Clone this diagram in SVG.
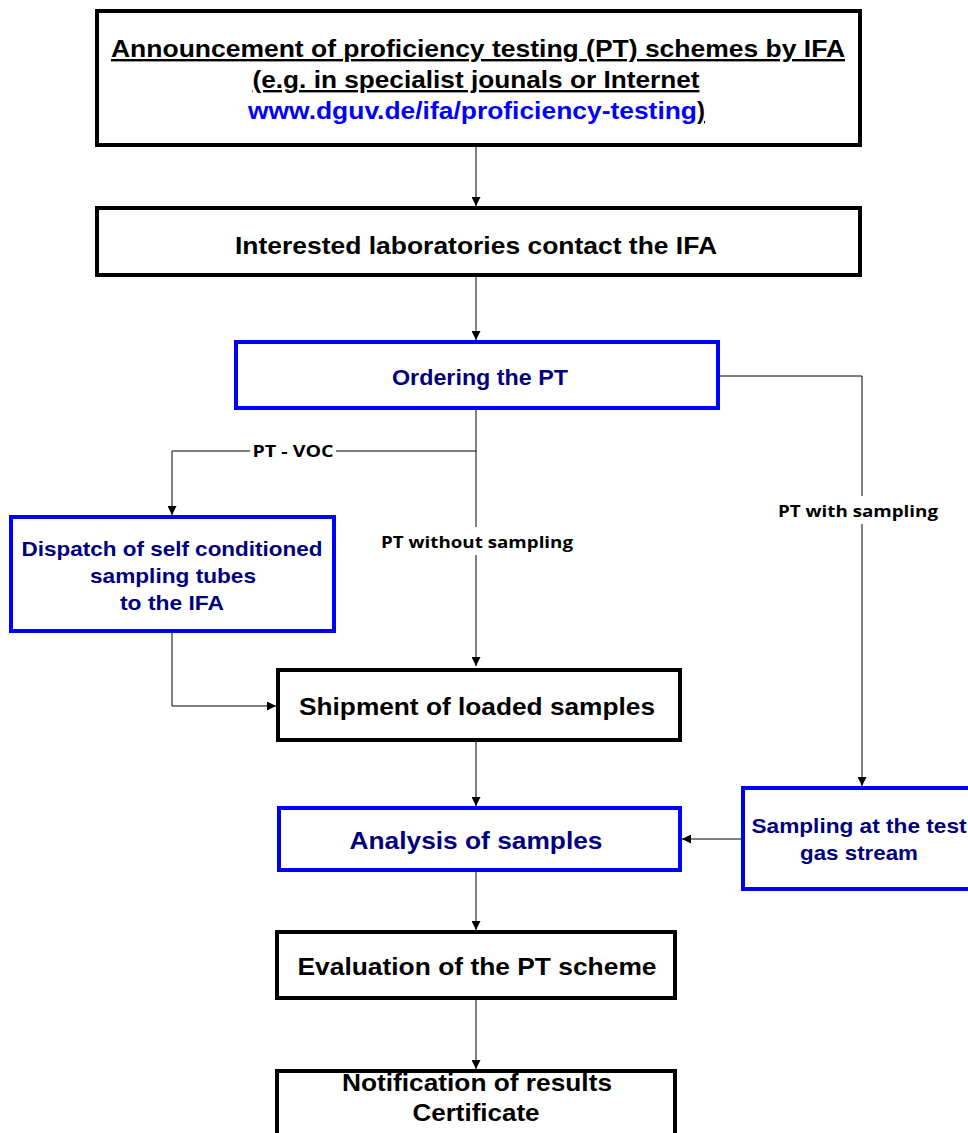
<svg xmlns="http://www.w3.org/2000/svg" width="968" height="1133" viewBox="0 0 968 1133">
<style>
.bk{fill:#fff;stroke:#000;stroke-width:4}
.bl{fill:#fff;stroke:#0000ff;stroke-width:4}
.t{font-family:"Liberation Sans",Arial,sans-serif;font-weight:bold;font-size:24px;text-anchor:middle;fill:#000}
.n{fill:#000080}
.s{font-size:21px}
.lb{font-family:"Open Sans","Noto Sans",sans-serif;font-weight:bold;font-size:16px;text-anchor:middle;fill:#000}
.c{fill:none;stroke:#000;stroke-width:1}
</style>
<defs>
<marker id="ah" viewBox="0 0 10 10" refX="10" refY="5" markerWidth="9" markerHeight="9" markerUnits="userSpaceOnUse" orient="auto">
<path d="M0,0 L10,5 L0,10 z" fill="#000"/>
</marker>
</defs>
<rect width="968" height="1133" fill="#fff"/>
<g id="connectors">
<path class="c" d="M476,145 V206" marker-end="url(#ah)"/>
<path class="c" d="M476,275 V340" marker-end="url(#ah)"/>
<path class="c" d="M476,408 V666" marker-end="url(#ah)"/>
<path class="c" d="M476,451 H172 V515" marker-end="url(#ah)"/>
<path class="c" d="M718,376 H862 V786" marker-end="url(#ah)"/>
<path class="c" d="M172,631 V706 H276" marker-end="url(#ah)"/>
<path class="c" d="M476,740 V806" marker-end="url(#ah)"/>
<path class="c" d="M743,839 H682" marker-end="url(#ah)"/>
<path class="c" d="M476,870 V930" marker-end="url(#ah)"/>
<path class="c" d="M476,998 V1069" marker-end="url(#ah)"/>
<g id="label-voc"><rect x="250" y="441" width="86" height="20" fill="#fff"/><text class="lb" x="293" y="457" textLength="81" lengthAdjust="spacingAndGlyphs">PT - VOC</text></g>
<g id="label-without"><rect x="378" y="527" width="198" height="28" fill="#fff"/><text class="lb" x="477" y="548" textLength="192" lengthAdjust="spacingAndGlyphs">PT without sampling</text></g>
<g id="label-with"><rect x="775" y="496" width="166" height="28" fill="#fff"/><text class="lb" x="858" y="517" textLength="160" lengthAdjust="spacingAndGlyphs">PT with sampling</text></g>
</g>
<g id="announcement">
<rect class="bk" x="97" y="11" width="763" height="134"/>
<text class="t" x="478" y="57" textLength="734" lengthAdjust="spacingAndGlyphs" text-decoration="underline">Announcement of proficiency testing (PT) schemes by IFA</text>
<text class="t" x="476" y="88" textLength="447" lengthAdjust="spacingAndGlyphs" text-decoration="underline">(e.g. in specialist jounals or Internet</text>
<text class="t" x="248" y="119" style="text-anchor:start"><tspan fill="#0000ff" textLength="449" lengthAdjust="spacingAndGlyphs">www.dguv.de/ifa/proficiency-testing</tspan><tspan text-decoration="underline">)</tspan></text>
</g>
<g id="contact">
<rect class="bk" x="97" y="208" width="763" height="67"/>
<text class="t" x="476" y="254" textLength="482" lengthAdjust="spacingAndGlyphs">Interested laboratories contact the IFA</text>
</g>
<g id="ordering">
<rect class="bl" x="236" y="342" width="482" height="66"/>
<text class="t n" x="480" y="385" style="font-size:22px" textLength="176" lengthAdjust="spacingAndGlyphs">Ordering the PT</text>
</g>
<g id="dispatch">
<rect class="bl" x="11" y="517" width="323" height="114"/>
<text class="t n s" x="172" y="556" textLength="301" lengthAdjust="spacingAndGlyphs">Dispatch of self conditioned</text>
<text class="t n s" x="173" y="583" textLength="166" lengthAdjust="spacingAndGlyphs">sampling tubes</text>
<text class="t n s" x="172" y="610" textLength="104" lengthAdjust="spacingAndGlyphs">to the IFA</text>
</g>
<g id="shipment">
<rect class="bk" x="278" y="670" width="402" height="70"/>
<text class="t" x="477" y="715" textLength="356" lengthAdjust="spacingAndGlyphs">Shipment of loaded samples</text>
</g>
<g id="analysis">
<rect class="bl" x="279" y="808" width="401" height="62"/>
<text class="t n" x="476" y="849" textLength="253" lengthAdjust="spacingAndGlyphs">Analysis of samples</text>
</g>
<g id="sampling">
<rect class="bl" x="743" y="788" width="240" height="101"/>
<text class="t n s" x="859" y="833" textLength="215" lengthAdjust="spacingAndGlyphs">Sampling at the test</text>
<text class="t n s" x="859" y="860" textLength="118" lengthAdjust="spacingAndGlyphs">gas stream</text>
</g>
<g id="evaluation">
<rect class="bk" x="277" y="932" width="398" height="66"/>
<text class="t" x="477" y="975" textLength="359" lengthAdjust="spacingAndGlyphs">Evaluation of the PT scheme</text>
</g>
<g id="notification">
<rect class="bk" x="277" y="1071" width="398" height="80"/>
<text class="t" x="477" y="1091" textLength="270" lengthAdjust="spacingAndGlyphs">Notification of results</text>
<text class="t" x="476" y="1121" textLength="127" lengthAdjust="spacingAndGlyphs">Certificate</text>
</g>
</svg>
